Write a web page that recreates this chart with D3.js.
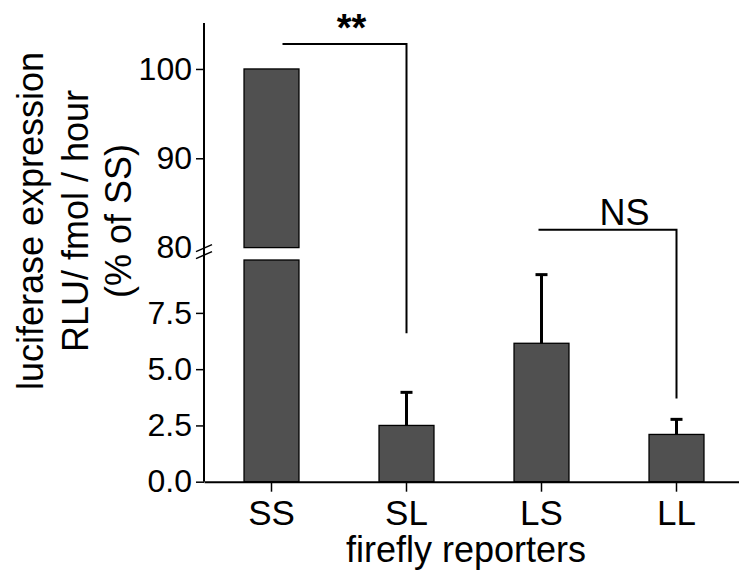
<!DOCTYPE html>
<html>
<head>
<meta charset="utf-8">
<script src="https://cdn.jsdelivr.net/npm/d3@7"></script>
<style>
  body { margin: 0; background: #fff; }
  text { font-family: Arial, "Liberation Sans", sans-serif; fill: #000; }
</style>
</head>
<body>
<div id="chart"></div>
<script>
// Data
const reporters = ["SS", "SL", "LS", "LL"];
const meanValues = [100, 2.5, 6.15, 2.1];
const semValues = [0, 1.47, 3.05, 0.67];
const upperTicks = [80, 90, 100];
const lowerTicks = [0, 2.5, 5.0, 7.5];
// significance brackets: from, to, bracket height (upper segment), drop end (lower segment), label
const brackets = [
    {from: "SS", to: "SL", level: 102.8, drop: 6.6, label: "**"},
    {from: "LS", to: "LL", level: 82.0, drop: 3.7, label: "NS"}
];

const width = 739, height = 586;

const svg = d3.select("#chart")
    .append("svg")
    .attr("width", width)
    .attr("height", height);

// Scales - broken y axis with two segments
const x = d3.scaleBand()
    .domain(reporters)
    .range([204, 744])
    .paddingInner(0.593)
    .paddingOuter(0.2965);

const yUpper = d3.scaleLinear().domain([80, 105]).range([247.6, 24.3]);
const yLower = d3.scaleLinear().domain([0, 9.85]).range([481.7, 260]);
const lowerMax = yLower.domain()[1];

const data = reporters.map((r, i) => ({name: r, mean: meanValues[i], sem: semValues[i]}));

// Bars (lower segment)
svg.selectAll(".bar-low")
    .data(data)
    .enter()
    .append("rect")
    .attr("x", d => x(d.name))
    .attr("width", x.bandwidth())
    .attr("y", d => yLower(Math.min(d.mean, lowerMax)))
    .attr("height", d => yLower(0) - yLower(Math.min(d.mean, lowerMax)))
    .attr("fill", "#505050")
    .attr("stroke", "#000")
    .attr("stroke-width", 1.3);

// Bars continuing into upper segment
svg.selectAll(".bar-high")
    .data(data.filter(d => d.mean > lowerMax))
    .enter()
    .append("rect")
    .attr("x", d => x(d.name))
    .attr("width", x.bandwidth())
    .attr("y", d => yUpper(d.mean))
    .attr("height", d => yUpper(80) - yUpper(d.mean))
    .attr("fill", "#505050")
    .attr("stroke", "#000")
    .attr("stroke-width", 1.3);

// Error bars (upper half only)
const errs = data.filter(d => d.sem > 0);
const cx = d => x(d.name) + x.bandwidth() / 2;
svg.selectAll(".err")
    .data(errs)
    .enter()
    .append("line")
    .attr("x1", cx).attr("x2", cx)
    .attr("y1", d => yLower(d.mean))
    .attr("y2", d => yLower(d.mean + d.sem))
    .attr("stroke", "#000")
    .attr("stroke-width", 3);
svg.selectAll(".cap")
    .data(errs)
    .enter()
    .append("line")
    .attr("x1", d => cx(d) - 6).attr("x2", d => cx(d) + 6)
    .attr("y1", d => yLower(d.mean + d.sem))
    .attr("y2", d => yLower(d.mean + d.sem))
    .attr("stroke", "#000")
    .attr("stroke-width", 3);

// Y axis (two segments sharing one line)
const yAxisUpper = svg.append("g")
    .attr("transform", "translate(204,0)")
    .call(d3.axisLeft(yUpper).tickValues(upperTicks).tickSize(8).tickPadding(4).tickFormat(d3.format("d")));
const yAxisLower = svg.append("g")
    .attr("transform", "translate(204,0)")
    .call(d3.axisLeft(yLower).tickValues(lowerTicks).tickSize(8).tickPadding(4).tickFormat(d3.format(".1f")));

[yAxisUpper, yAxisLower].forEach(g => {
    g.select(".domain").remove();
    g.selectAll(".tick line").attr("stroke", "#000").attr("stroke-width", 1.5);
    g.selectAll(".tick text").style("font-size", "32px").attr("fill", "#000");
});
// no tick line at the break value
yAxisUpper.selectAll(".tick").filter(d => d === 80).select("line").remove();

svg.append("line")
    .attr("x1", 204).attr("x2", 204)
    .attr("y1", 23).attr("y2", yLower(0))
    .attr("stroke", "#000")
    .attr("stroke-width", 2);

// Break marks
const by = yUpper(80);
[0, 7].forEach(off => {
    svg.append("line")
        .attr("x1", 196).attr("y1", by + off + 4)
        .attr("x2", 212).attr("y2", by + off - 3)
        .attr("stroke", "#000")
        .attr("stroke-width", 1.5);
});

// X axis
const xAxis = svg.append("g")
    .attr("transform", `translate(0,${yLower(0)})`)
    .call(d3.axisBottom(x).tickSize(10).tickSizeOuter(0).tickPadding(8));
xAxis.select(".domain").attr("stroke", "#000").attr("stroke-width", 2);
xAxis.selectAll(".tick line").attr("stroke", "#000").attr("stroke-width", 1.5);
xAxis.selectAll(".tick text").style("font-size", "35px").attr("fill", "#000");

// Axis titles
svg.append("text")
    .attr("x", 466)
    .attr("y", 562)
    .attr("text-anchor", "middle")
    .style("font-size", "36px")
    .text("firefly reporters");

const yTitle = svg.append("text")
    .attr("transform", "rotate(-90)")
    .attr("text-anchor", "middle")
    .style("font-size", "36px");
["luciferase expression", "RLU/ fmol / hour", "(% of SS)"].forEach((t, i) => {
    yTitle.append("tspan")
        .attr("x", -221)
        .attr("y", [43, 88, 131][i])
        .text(t);
});

// Significance brackets
const yAny = v => v > lowerMax ? yUpper(v) : yLower(v);
brackets.forEach((b, i) => {
    const x0 = x(b.from) + x.bandwidth() / 2 + [11, -3][i];
    const x1 = x(b.to) + x.bandwidth() / 2;
    const yl = yAny(b.level);
    svg.append("path")
        .attr("d", `M${x0},${yl}H${x1}V${yLower(b.drop)}`)
        .attr("fill", "none")
        .attr("stroke", "#000")
        .attr("stroke-width", 2);
    svg.append("text")
        .attr("x", (x0 + x1) / 2 + (i === 0 ? 7 : 17))
        .attr("y", i === 0 ? 41 : 225)
        .attr("text-anchor", "middle")
        .style("font-size", i === 0 ? "38px" : "36px")
        .style("font-weight", i === 0 ? "bold" : "normal")
        .text(b.label);
});
</script>
</body>
</html>
